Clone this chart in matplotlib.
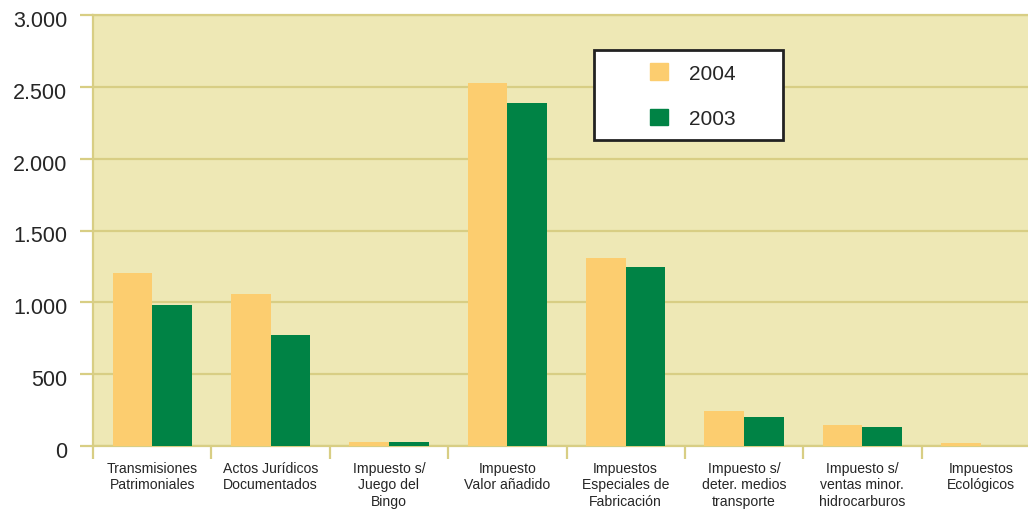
import matplotlib
matplotlib.use("Agg")
import matplotlib.pyplot as plt
from matplotlib import font_manager
from matplotlib.patches import Rectangle, Patch
from matplotlib.ticker import FuncFormatter, FixedLocator
from matplotlib.transforms import ScaledTranslation

categories = [
    "Transmisiones\nPatrimoniales",
    "Actos Jurídicos\nDocumentados",
    "Impuesto s/\nJuego del\nBingo",
    "Impuesto\nValor añadido",
    "Impuestos\nEspeciales de\nFabricación",
    "Impuesto s/\ndeter. medios\ntransporte",
    "Impuesto s/\nventas minor.\nhidrocarburos",
    "Impuestos\nEcológicos",
]
values_2004 = [1204, 1058, 26, 2527, 1308, 244, 146, 21]
values_2003 = [981, 773, 28, 2387, 1246, 202, 132, 0]
y_ticks = [0, 500, 1000, 1500, 2000, 2500, 3000]

YELLOW = "#fccd6f"
GREEN = "#008345"
BG = "#eee8b5"
LINE = "#d8ce84"
TEXT = "#262626"

names = {f.name for f in font_manager.fontManager.ttflist}
font = "Liberation Sans Narrow" if "Liberation Sans Narrow" in names else "Liberation Sans"
plt.rcParams["font.family"] = font

W, H = 1028, 510
fig = plt.figure(figsize=(W / 100, H / 100), dpi=100)
ax = fig.add_axes([93 / W, 1 - 447 / H, (1040 - 93) / W, (447 - 16) / H])
ax.set_facecolor(BG)

x = list(range(len(categories)))
bw = 0.335
ax.bar([i - bw / 2 for i in x], values_2004, width=bw, color=YELLOW, zorder=3)
ax.bar([i + bw / 2 for i in x], values_2003, width=bw, color=GREEN, zorder=3)

ax.set_xlim(-0.5, len(categories) - 0.5)
ax.set_ylim(0, 3000)
ax.set_axisbelow(True)

ax.set_yticks(y_ticks)
ax.yaxis.set_major_formatter(FuncFormatter(lambda v, p: f"{int(v):,}".replace(",", ".")))
ax.grid(axis="y", color=LINE, linewidth=1.6)
ax.tick_params(axis="y", length=9.5, width=1.6, color=LINE, pad=9,
               labelsize=15.5, labelcolor=TEXT)
shift = ScaledTranslation(0, -3 / 100, fig.dpi_scale_trans)
for lbl in ax.get_yticklabels():
    lbl.set_transform(lbl.get_transform() + shift)

ax.set_xticks(x)
ax.set_xticklabels(categories, fontsize=10.1, color=TEXT, linespacing=1.25)
ax.xaxis.set_minor_locator(FixedLocator([i + 0.5 for i in range(-1, len(categories))]))
ax.tick_params(axis="x", which="major", length=0, pad=10.5)
ax.tick_params(axis="x", which="minor", length=9, width=1.6, color=LINE)

for side in ["left", "top", "bottom"]:
    ax.spines[side].set_color(LINE)
    ax.spines[side].set_linewidth(1.6)
ax.spines["right"].set_visible(False)

# legend box drawn by hand, legend itself without frame
box = Rectangle((594 / W, 1 - 141 / H), 189 / W, 90 / H, transform=fig.transFigure,
                facecolor="white", edgecolor="#222222", linewidth=2, zorder=4)
fig.patches.append(box)
handles = [Patch(color=YELLOW, label="2004"), Patch(color=GREEN, label="2003")]
fig.legend(handles=handles, loc="upper left", bbox_to_anchor=(650 / W, 1 - 64 / H),
           frameon=False, fontsize=15, handlelength=0.85, handleheight=0.85,
           handletextpad=1.0, labelspacing=1.25, borderpad=0, borderaxespad=0,
           labelcolor=TEXT)

fig.savefig("out.png", dpi=100)
